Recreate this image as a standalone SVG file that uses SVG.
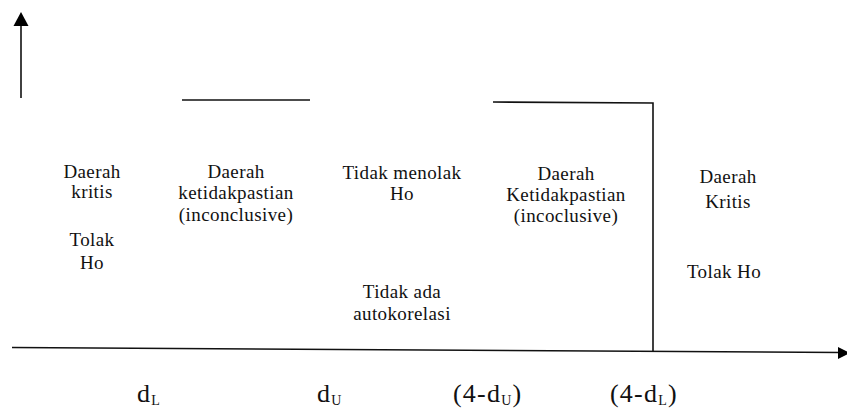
<svg xmlns="http://www.w3.org/2000/svg" width="847" height="410" viewBox="0 0 847 410">
<style>
text{font-family:'Liberation Serif','Times New Roman',Times,serif;fill:#111}
.t{font-size:19px;text-anchor:middle;letter-spacing:0.4px}
.b{font-size:26px;letter-spacing:1.2px}
.s{font-size:14px}
.ln{stroke:#111;stroke-width:1.6;fill:none}
</style>
<rect width="847" height="410" fill="#fff"/>
<g id="connectors">
<line class="ln" x1="21" y1="98" x2="21" y2="24"/>
<path d="M21,12 L28.5,26 L13.5,26 z" fill="#000"/>
<line class="ln" x1="12" y1="347.5" x2="841" y2="352.5"/>
<path d="M850,353 L838,347 L838,359 z" fill="#000"/>
<line class="ln" x1="182" y1="100" x2="310" y2="100"/>
<polyline class="ln" points="493,102 653,103 653,352"/>
</g>
<g id="region-critical-left">
<text class="t" x="92" y="178">Daerah</text>
<text class="t" x="92" y="198">kritis</text>
<text class="t" x="92" y="246">Tolak</text>
<text class="t" x="92" y="269">Ho</text>
</g>
<g id="region-inconclusive-left">
<text class="t" x="236" y="178">Daerah</text>
<text class="t" x="236" y="199">ketidakpastian</text>
<text class="t" x="236" y="221">(inconclusive)</text>
</g>
<g id="region-no-autocorrelation">
<text class="t" x="402" y="179">Tidak menolak</text>
<text class="t" x="402" y="200">Ho</text>
<text class="t" x="402" y="298">Tidak ada</text>
<text class="t" x="402" y="320">autokorelasi</text>
</g>
<g id="region-inconclusive-right">
<text class="t" x="566" y="180">Daerah</text>
<text class="t" x="566" y="201">Ketidakpastian</text>
<text class="t" x="566" y="222">(incoclusive)</text>
</g>
<g id="region-critical-right">
<text class="t" x="728" y="183">Daerah</text>
<text class="t" x="728" y="208">Kritis</text>
<text class="t" x="724" y="278">Tolak Ho</text>
</g>
<g id="axis-labels">
<text class="b" x="137" y="402">d<tspan class="s" dy="3">L</tspan></text>
<text class="b" x="317" y="402">d<tspan class="s" dy="3">U</tspan></text>
<text class="b" x="453" y="402">(4-d<tspan class="s" dy="3">U</tspan><tspan dy="-3">)</tspan></text>
<text class="b" x="610" y="402">(4-d<tspan class="s" dy="3">L</tspan><tspan dy="-3">)</tspan></text>
</g>
</svg>
